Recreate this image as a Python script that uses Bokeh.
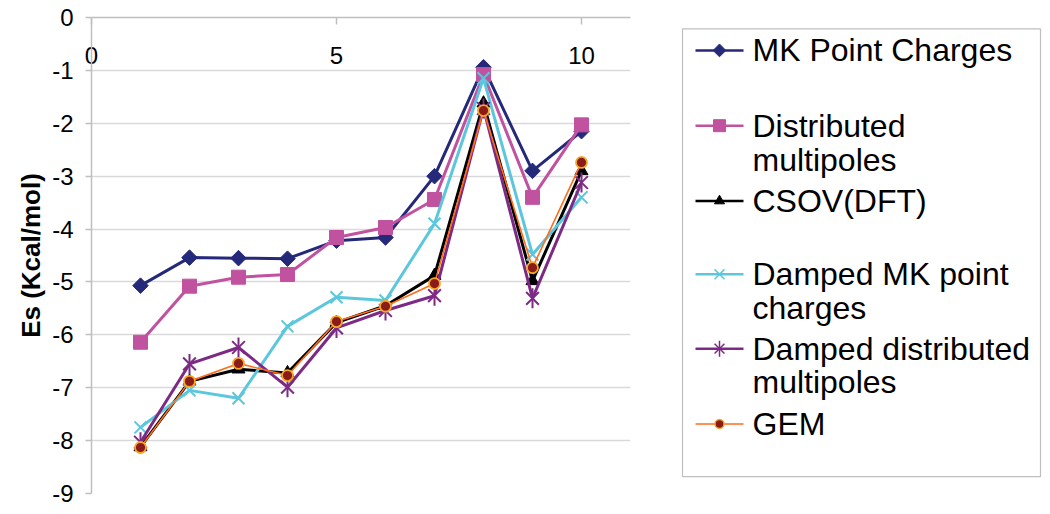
from bokeh.plotting import figure
from bokeh.models import FixedTicker, Range1d
from bokeh.layouts import row
from bokeh.embed import file_html
from bokeh.resources import INLINE
from bokeh.core.properties import value
import math

FONT = "Liberation Sans"

x = [1, 2, 3, 4, 5, 6, 7, 8, 9, 10]
mk_point = [-5.07, -4.54, -4.55, -4.56, -4.22, -4.16, -3.00, -0.94, -2.90, -2.15]
dist_mult = [-6.14, -5.08, -4.91, -4.86, -4.16, -3.97, -3.44, -1.08, -3.40, -2.03]
csov = [-8.12, -6.88, -6.65, -6.72, -5.77, -5.45, -4.88, -1.62, -4.98, -2.90]
damped_mk = [-7.75, -7.05, -7.20, -5.84, -5.29, -5.35, -3.90, -1.15, -4.48, -3.40]
damped_dm = [-8.03, -6.55, -6.24, -6.99, -5.87, -5.54, -5.26, -1.72, -5.31, -3.12]
gem = [-8.13, -6.88, -6.54, -6.77, -5.75, -5.46, -5.03, -1.76, -4.73, -2.74]

x_ticks = [0, 5, 10]
y_ticks = [0, -1, -2, -3, -4, -5, -6, -7, -8, -9]
y_label = "Es (Kcal/mol)"

legend_labels = [
    ["MK Point Charges"],
    ["Distributed", "multipoles"],
    ["CSOV(DFT)"],
    ["Damped MK point", "charges"],
    ["Damped distributed", "multipoles"],
    ["GEM"],
]

NAVY = "#25297A"
MAGENTA = "#C052A0"
CYAN = "#5CC7DC"
PURPLE = "#7C2A84"
ORANGE = "#FF6D1A"
GEM_FILL = "#8B1A1A"
GEM_EDGE = "#F5A623"

p = figure(width=658, height=506, x_range=Range1d(0, 11), y_range=Range1d(-9, 0),
           x_axis_location="above", output_backend="svg", toolbar_location=None,
           min_border_left=91, min_border_right=28, min_border_top=17, min_border_bottom=13)
p.outline_line_color = None
p.background_fill_color = "white"
p.border_fill_color = "white"
p.xgrid.visible = False
p.ygrid.ticker = FixedTicker(ticks=[t for t in y_ticks if t != -9])
p.ygrid.grid_line_color = "#D9D9D9"
p.ygrid.grid_line_width = 1.5

p.xaxis.ticker = FixedTicker(ticks=x_ticks)
p.yaxis.ticker = FixedTicker(ticks=y_ticks)
p.yaxis.major_label_overrides = {t: str(t) for t in y_ticks}
p.xaxis.major_label_overrides = {t: str(t) for t in x_ticks}
for ax in (p.xaxis, p.yaxis):
    ax.axis_line_color = "#BFBFBF"
    ax.axis_line_width = 1.5
    ax.major_tick_line_color = "#BFBFBF"
    ax.major_tick_line_width = 1.5
    ax.minor_tick_line_color = None
    ax.major_label_text_font = FONT
    ax.major_label_text_font_size = "24px"
    ax.major_label_text_color = "black"
p.xaxis.major_tick_in = 7
p.xaxis.major_tick_out = 0
p.xaxis.major_label_standoff = -46
p.yaxis.major_tick_in = 0
p.yaxis.major_tick_out = 6
p.yaxis.major_label_standoff = 12
p.yaxis.axis_label = y_label
p.yaxis.axis_label_text_font = FONT
p.yaxis.axis_label_text_font_size = "26px"
p.yaxis.axis_label_text_font_style = "bold"
p.yaxis.axis_label_text_color = "black"
p.yaxis.axis_label_standoff = 3

# MK Point Charges
p.line(x, mk_point, line_color=NAVY, line_width=3)
p.scatter(x, mk_point, marker="square", size=11, angle=math.pi / 4,
          fill_color=NAVY, line_color=NAVY)
# Distributed multipoles
p.line(x, dist_mult, line_color=MAGENTA, line_width=3)
p.scatter(x, dist_mult, marker="square", size=14, fill_color=MAGENTA, line_color=MAGENTA)
# CSOV(DFT)
p.line(x, csov, line_color="black", line_width=3)
p.scatter(x, csov, marker="triangle", size=13, fill_color="black", line_color="black")
# Damped MK point charges
p.line(x, damped_mk, line_color=CYAN, line_width=3)
p.scatter(x, damped_mk, marker="x", size=17, line_color=CYAN, line_width=2)
# Damped distributed multipoles
p.line(x, damped_dm, line_color=PURPLE, line_width=3)
p.scatter(x, damped_dm, marker="x", size=18, line_color=PURPLE, line_width=2)
p.scatter(x, damped_dm, marker="dash", size=20, angle=math.pi / 2, line_color=PURPLE, line_width=2)
# GEM
p.line(x, gem, line_color=ORANGE, line_width=1.6)
p.scatter(x, gem, marker="circle", size=11, fill_color=GEM_FILL, line_color=GEM_EDGE, line_width=1.8)

# Legend panel
lg = figure(width=384, height=506, x_range=Range1d(0, 384), y_range=Range1d(506, 0),
            output_backend="svg", toolbar_location=None,
            min_border_left=0, min_border_right=0, min_border_top=0, min_border_bottom=0)
lg.axis.visible = False
lg.grid.visible = False
lg.outline_line_color = None
lg.quad(left=24, right=382, top=12, bottom=488, fill_color=None, line_color="#BFBFBF", line_width=1.2)

row_y = [35, 115, 195, 273, 352, 432]
line_gap = 36
colors = [NAVY, MAGENTA, "black", CYAN, PURPLE, ORANGE]
widths = [2.5, 2.5, 2.5, 2.5, 2.5, 1.5]
sx0, sx1, mx, tx = 37, 85, 61, 94
for i, yy in enumerate(row_y):
    lg.segment(x0=[sx0], y0=[yy], x1=[sx1], y1=[yy], line_color=colors[i], line_width=widths[i])
lg.scatter([mx], [row_y[0]], marker="square", size=9, angle=math.pi / 4, fill_color=NAVY, line_color=NAVY)
lg.scatter([mx], [row_y[1]], marker="square", size=12, fill_color=MAGENTA, line_color=MAGENTA)
lg.scatter([mx], [row_y[2]], marker="triangle", size=10, fill_color="black", line_color="black")
lg.scatter([mx], [row_y[3]], marker="x", size=14, line_color=CYAN, line_width=1.5)
lg.scatter([mx], [row_y[4]], marker="x", size=14, line_color=PURPLE, line_width=1.5)
lg.scatter([mx], [row_y[4]], marker="dash", size=16, angle=math.pi / 2, line_color=PURPLE, line_width=1.5)
lg.scatter([mx], [row_y[5]], marker="circle", size=9, fill_color=GEM_FILL, line_color=GEM_EDGE, line_width=1.5)

tx_list, ty_list, tt_list = [], [], []
for i, lines in enumerate(legend_labels):
    for j, t in enumerate(lines):
        tx_list.append(tx)
        ty_list.append(row_y[i] + j * line_gap)
        tt_list.append(t)
lg.text(x=tx_list, y=ty_list, text=tt_list, text_baseline="middle", text_align="left",
        text_font=value(FONT), text_font_size="32px", text_color="black")

layout = row(p, lg)
open("out.html", "w").write(file_html(layout, INLINE))
